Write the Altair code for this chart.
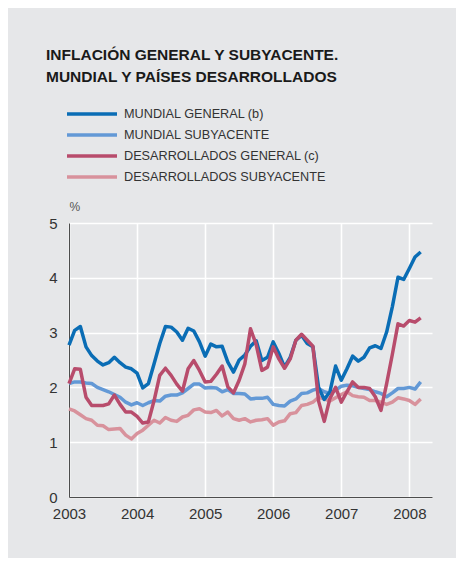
import altair as alt
import pandas as pd

series_names = [
    "MUNDIAL GENERAL (b)",
    "MUNDIAL SUBYACENTE",
    "DESARROLLADOS GENERAL (c)",
    "DESARROLLADOS SUBYACENTE",
]
series_colors = ["#0a6db5", "#6399d6", "#b84c6c", "#d8929c"]

# Monthly values, Jan 2003 .. Mar 2008
mundial_general = [
    2.77, 3.04, 3.11, 2.74, 2.58, 2.48, 2.41, 2.45, 2.55, 2.45, 2.37, 2.34,
    2.26, 1.99, 2.07, 2.43, 2.80, 3.11, 3.10, 3.01, 2.86, 3.08, 3.03, 2.83,
    2.57, 2.79, 2.74, 2.75, 2.46, 2.28, 2.50, 2.59, 2.75, 2.85, 2.49, 2.55,
    2.83, 2.62, 2.37, 2.55, 2.86, 2.95, 2.80, 2.74, 2.00, 1.78, 1.92, 2.39,
    2.13, 2.34, 2.57, 2.48, 2.55, 2.72, 2.76, 2.71, 3.01, 3.47, 4.01, 3.97,
    4.17, 4.38, 4.47,
]
mundial_subyacente = [
    2.07, 2.10, 2.10, 2.08, 2.07, 2.00, 1.96, 1.92, 1.87, 1.82, 1.73, 1.68,
    1.72, 1.67, 1.72, 1.76, 1.75, 1.84, 1.86, 1.86, 1.90, 1.98, 2.06, 2.06,
    1.99, 2.00, 1.99, 1.92, 1.96, 1.89, 1.89, 1.88, 1.79, 1.80, 1.80, 1.82,
    1.69, 1.67, 1.66, 1.75, 1.79, 1.89, 1.90, 1.95, 1.98, 1.92, 1.89, 1.95,
    2.02, 2.04, 2.03, 2.00, 1.98, 1.96, 1.92, 1.89, 1.83, 1.90, 1.98, 1.98,
    2.00, 1.97, 2.10,
]
desarrollados_general = [
    2.07, 2.34, 2.33, 1.82, 1.67, 1.67, 1.67, 1.70, 1.86, 1.69, 1.55, 1.55,
    1.47, 1.35, 1.37, 1.76, 2.22, 2.35, 2.22, 2.06, 1.93, 2.34, 2.49, 2.31,
    2.10, 2.11, 2.24, 2.39, 2.01, 1.90, 2.13, 2.43, 3.07, 2.78, 2.31, 2.37,
    2.74, 2.52, 2.35, 2.52, 2.86, 2.97, 2.86, 2.75, 1.75, 1.38, 1.80, 2.00,
    1.73, 1.92, 2.10, 2.00, 2.00, 1.98, 1.83, 1.58, 2.07, 2.60, 3.16, 3.12,
    3.22, 3.19, 3.27,
]
desarrollados_subyacente = [
    1.61, 1.57, 1.50, 1.43, 1.40, 1.31, 1.30, 1.23, 1.24, 1.25, 1.13, 1.06,
    1.16, 1.22, 1.31, 1.40, 1.35, 1.45, 1.40, 1.38, 1.46, 1.49, 1.59, 1.61,
    1.55, 1.54, 1.58, 1.48, 1.55, 1.43, 1.40, 1.43, 1.37, 1.40, 1.41, 1.43,
    1.31, 1.37, 1.39, 1.52, 1.54, 1.67, 1.69, 1.73, 1.82, 1.79, 1.75, 1.81,
    1.87, 1.92, 1.85, 1.83, 1.82, 1.76, 1.76, 1.73, 1.69, 1.73, 1.81, 1.79,
    1.76, 1.69, 1.79,
]
year_ticks = [2003, 2004, 2005, 2006, 2007, 2008]
y_ticks = [0, 1, 2, 3, 4, 5]

all_values = [mundial_general, mundial_subyacente, desarrollados_general, desarrollados_subyacente]
rows = []
for name, vals in zip(series_names, all_values):
    for m, v in enumerate(vals):
        rows.append({"serie": name, "t": 2003 + m / 12.0, "v": v})
df = pd.DataFrame(rows)

FONT = "Liberation Sans"

base = alt.Chart(df).mark_line(strokeWidth=3.5, strokeJoin="round", strokeCap="butt").encode(
    x=alt.X("t:Q",
            scale=alt.Scale(domain=[2003, 2008.333], nice=False, zero=False),
            axis=alt.Axis(values=year_ticks, format="d", title=None, labelPadding=9,
                          labelFlush=False)),
    y=alt.Y("v:Q",
            scale=alt.Scale(domain=[0, 5], nice=False),
            axis=alt.Axis(values=y_ticks, title="%", titleAngle=0, titleAlign="left",
                          titleBaseline="alphabetic",
                          titleX=0, titleY=-13, titleFontSize=12, titleFontWeight="normal",
                          titleColor="#555555", titleFont=FONT, labelPadding=12)),
    color=alt.Color("serie:N",
                    scale=alt.Scale(domain=series_names, range=series_colors),
                    title=None,
                    legend=alt.Legend(orient="none", legendX=16, legendY=-116,
                                      symbolType="M-5,0L5,0", symbolSize=100,
                                      symbolStrokeWidth=3.5, labelFontSize=12.7,
                                      labelColor="#333333", labelFont=FONT,
                                      labelLimit=400,
                                      labelOffset=25, rowPadding=7, padding=0,
                                      direction="vertical")),
)

layer_order = [series_names[1], series_names[3], series_names[0], series_names[2]]
layers = [base.transform_filter(alt.datum.serie == s) for s in layer_order]

chart = alt.layer(*layers).properties(
    width=363,
    height=274,
    padding={"left": 61, "top": 215, "right": 24, "bottom": 61},
    autosize=alt.AutoSizeParams(type="none"),
    title=alt.TitleParams(
        text=["INFLACIÓN GENERAL Y SUBYACENTE.", "MUNDIAL Y PAÍSES DESARROLLADOS"],
        anchor="start", frame="group", dx=-23, offset=22,
        font=FONT, fontSize=15.5, fontWeight="bold", color="#1a1a1a", lineHeight=22,
    ),
).configure(background="#e6e7e9").configure_view(strokeWidth=0).configure_axis(
    domainColor="#4d4d4d", domainWidth=1, ticks=False, grid=True,
    gridColor="#ffffff", gridWidth=1.6, labelFont=FONT, labelFontSize=15,
    labelColor="#333333",
)

chart.save("out.html", embed_options={"renderer": "svg", "actions": False})
